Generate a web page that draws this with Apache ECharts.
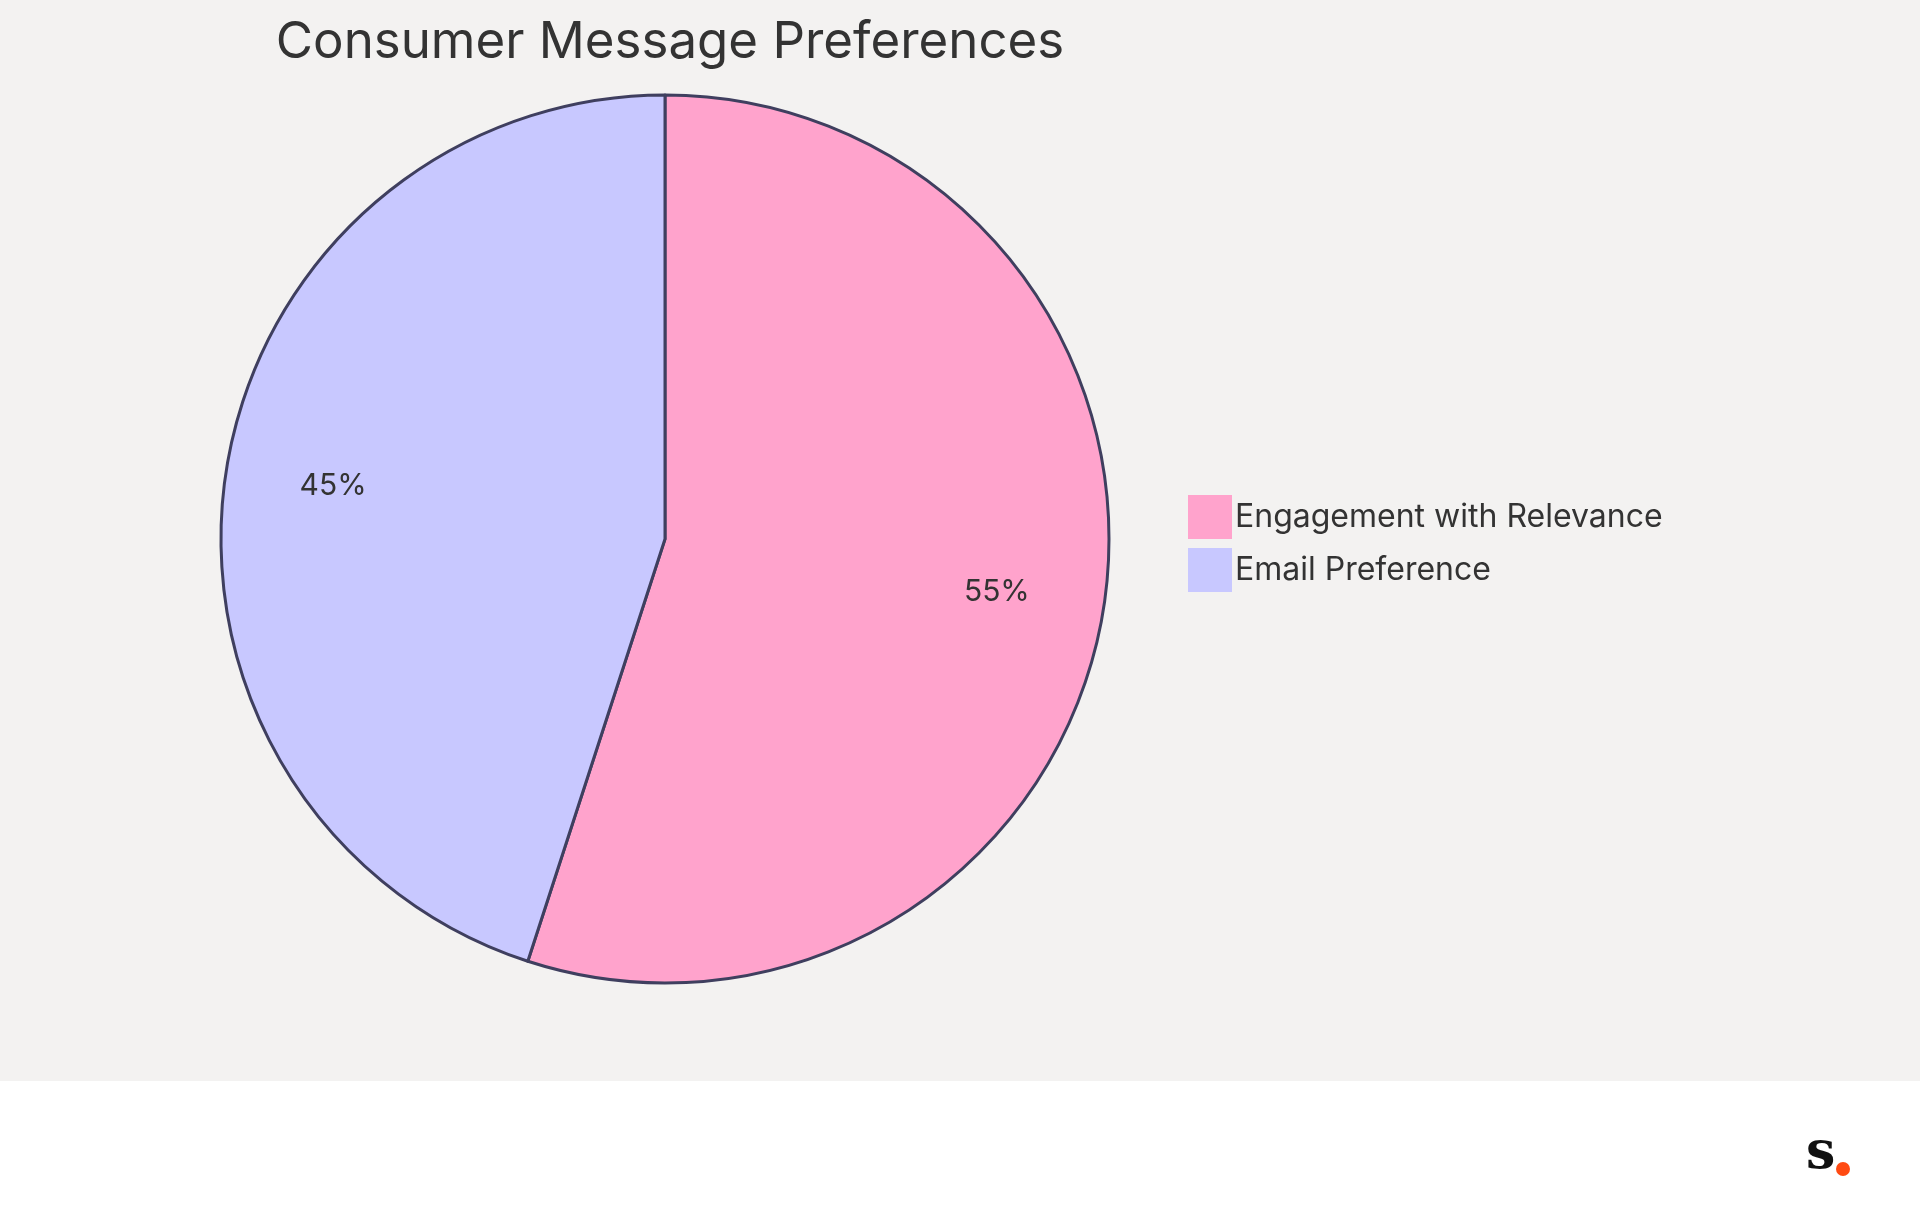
<!DOCTYPE html>
<html><head><meta charset="utf-8">
<script src="https://cdn.jsdelivr.net/npm/echarts@6/dist/echarts.min.js"></script>
<style>html,body{margin:0;padding:0;background:#fff}#c{width:1920px;height:1215px}</style>
</head><body><div id="c"></div>
<script>
const categories = ["Engagement with Relevance", "Email Preference"];
const values = [55, 45];
const colors = ["#FFA3CC", "#C8C8FF"];
const chart = echarts.init(document.getElementById('c'));
const data = categories.map((n, i) => ({name: n, value: values[i], itemStyle: {color: colors[i]}}));
chart.setOption({
  backgroundColor: '#ffffff',
  graphic: [
    {type: 'rect', z: -10, shape: {x: 0, y: 0, width: 1920, height: 1081}, style: {fill: '#F3F2F1'}},
    {type: 'text', left: 1806, top: 1128, style: {text: 's', font: 'bold 52px "DejaVu Serif"', fill: '#111'}},
    {type: 'circle', shape: {cx: 1843, cy: 1169, r: 7}, style: {fill: '#FF4A12'}}
  ],
  title: {text: 'Consumer Message Preferences', left: 665, top: 12, textAlign: 'center',
    textStyle: {fontFamily: 'Inter', fontSize: 51, fontWeight: 'normal', color: '#333'}},
  legend: {orient: 'vertical', left: 1183, top: 490, itemWidth: 44, itemHeight: 44, itemGap: 9,
    icon: 'rect', data: categories,
    itemStyle: {borderWidth: 0},
    textStyle: {fontFamily: 'Inter', fontSize: 32, color: '#333', padding: [0, 0, 0, -2]}},
  series: [
    {type: 'pie', center: [665, 539], radius: [0, 444], startAngle: 90, clockwise: true,
     data: data, label: {show: false}, labelLine: {show: false},
     itemStyle: {borderColor: '#3F3F5F', borderWidth: 3}, emphasis: {disabled: true}},
    {type: 'pie', center: [665, 539], radius: [0, 666], startAngle: 90, clockwise: true, silent: true,
     data: data.map(d => ({name: d.name, value: d.value, itemStyle: {color: 'transparent'}})),
     label: {show: true, position: 'inside', formatter: '{d}%', fontFamily: 'Inter', fontSize: 30, color: '#333'},
     labelLine: {show: false}, legendHoverLink: false}
  ]
});
</script></body></html>
